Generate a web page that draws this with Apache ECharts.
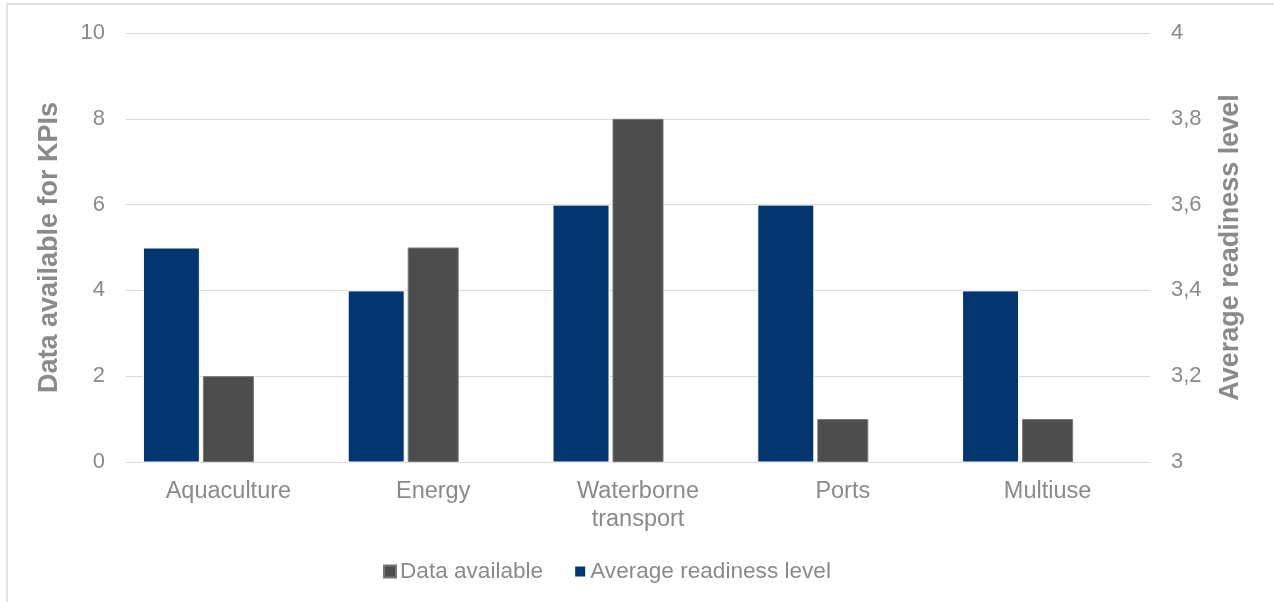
<!DOCTYPE html>
<html>
<head>
<meta charset="utf-8">
<script src="https://cdn.jsdelivr.net/npm/echarts@6/dist/echarts.min.js"></script>
<style>
  html, body { margin: 0; padding: 0; background: #ffffff; }
  #frame { position: absolute; left: 6px; top: 3px; width: 1300px; height: 700px;
           border-left: 2px solid #e3e3e3; border-top: 2px solid #e3e3e3; }
  #chart { position: absolute; left: 0; top: 0; width: 1274px; height: 602px; }
</style>
</head>
<body>
<div id="frame"></div>
<div id="chart"></div>
<script>
const categories = ['Aquaculture', 'Energy', 'Waterborne\ntransport', 'Ports', 'Multiuse'];
const dataAvailable = [2, 5, 8, 1, 1];
const readinessLevel = [3.5, 3.4, 3.6, 3.6, 3.4];
const leftTicks = [0, 2, 4, 6, 8, 10];
const rightTicks = ['3', '3,2', '3,4', '3,6', '3,8', '4'];

const textColor = '#8a8a8a';
const font = 'Liberation Sans, Arial, sans-serif';

const chart = echarts.init(document.getElementById('chart'), null, { renderer: 'canvas' });
chart.setOption({
  backgroundColor: 'transparent',
  animation: false,
  textStyle: { fontFamily: font },
  grid: { left: 126, right: 124, top: 33, bottom: 140, containLabel: false },
  legend: {
    data: ['Data available', 'Average readiness level'],
    left: 378, top: 555,
    icon: 'rect', itemWidth: 12, itemHeight: 12, itemGap: 30,
    textStyle: { color: textColor, fontSize: 22.6, fontFamily: font, padding: [0, 0, 0, -1] }
  },
  xAxis: [
    {
      type: 'category', data: categories,
      axisLine: { show: true, lineStyle: { color: '#d9d9d9', width: 1 } },
      axisTick: { show: false },
      axisLabel: { color: textColor, fontSize: 23.5, lineHeight: 28, margin: 16, interval: 0, fontFamily: font },
      splitLine: { show: false }
    },
    {
      type: 'category', data: categories, show: false,
      splitLine: { show: false }
    }
  ],
  yAxis: [
    {
      type: 'value', min: leftTicks[0], max: leftTicks[leftTicks.length - 1], interval: 2,
      name: 'Data available for KPIs', nameLocation: 'middle', nameRotate: 90, nameGap: 63,
      nameTextStyle: { color: textColor, fontSize: 27, fontWeight: 'bold', fontFamily: font },
      axisLine: { show: false }, axisTick: { show: false },
      axisLabel: { color: textColor, fontSize: 22, margin: 21, fontFamily: font },
      splitLine: { show: true, lineStyle: { color: '#d9d9d9', width: 1 } }
    },
    {
      type: 'value', min: 3, max: 4, interval: 0.2, position: 'right',
      name: 'Average readiness level', nameLocation: 'middle', nameRotate: 90, nameGap: 67,
      nameTextStyle: { color: textColor, fontSize: 27, fontWeight: 'bold', fontFamily: font },
      axisLine: { show: false }, axisTick: { show: false },
      axisLabel: {
        color: textColor, fontSize: 22, margin: 21, fontFamily: font,
        formatter: function (v) { return rightTicks[Math.round((v - 3) / 0.2)]; }
      },
      splitLine: { show: false }
    }
  ],
  series: [
    {
      name: 'Data available', type: 'bar', xAxisIndex: 0, yAxisIndex: 0,
      data: dataAvailable, barWidth: 51,
      itemStyle: { color: '#4d4d4d', borderColor: '#777777', borderWidth: 1 }
    },
    {
      name: 'Average readiness level', type: 'bar', xAxisIndex: 1, yAxisIndex: 1,
      data: readinessLevel, barWidth: 57, barGap: '100%',
      itemStyle: { color: '#03366f', borderColor: '#ffffff', borderWidth: 1 }
    },
    {
      name: 'spacer', type: 'bar', xAxisIndex: 1, yAxisIndex: 1,
      data: [null, null, null, null, null], barWidth: 57, barGap: '100%',
      silent: true, itemStyle: { color: 'transparent' }
    }
  ]
});
</script>
</body>
</html>
